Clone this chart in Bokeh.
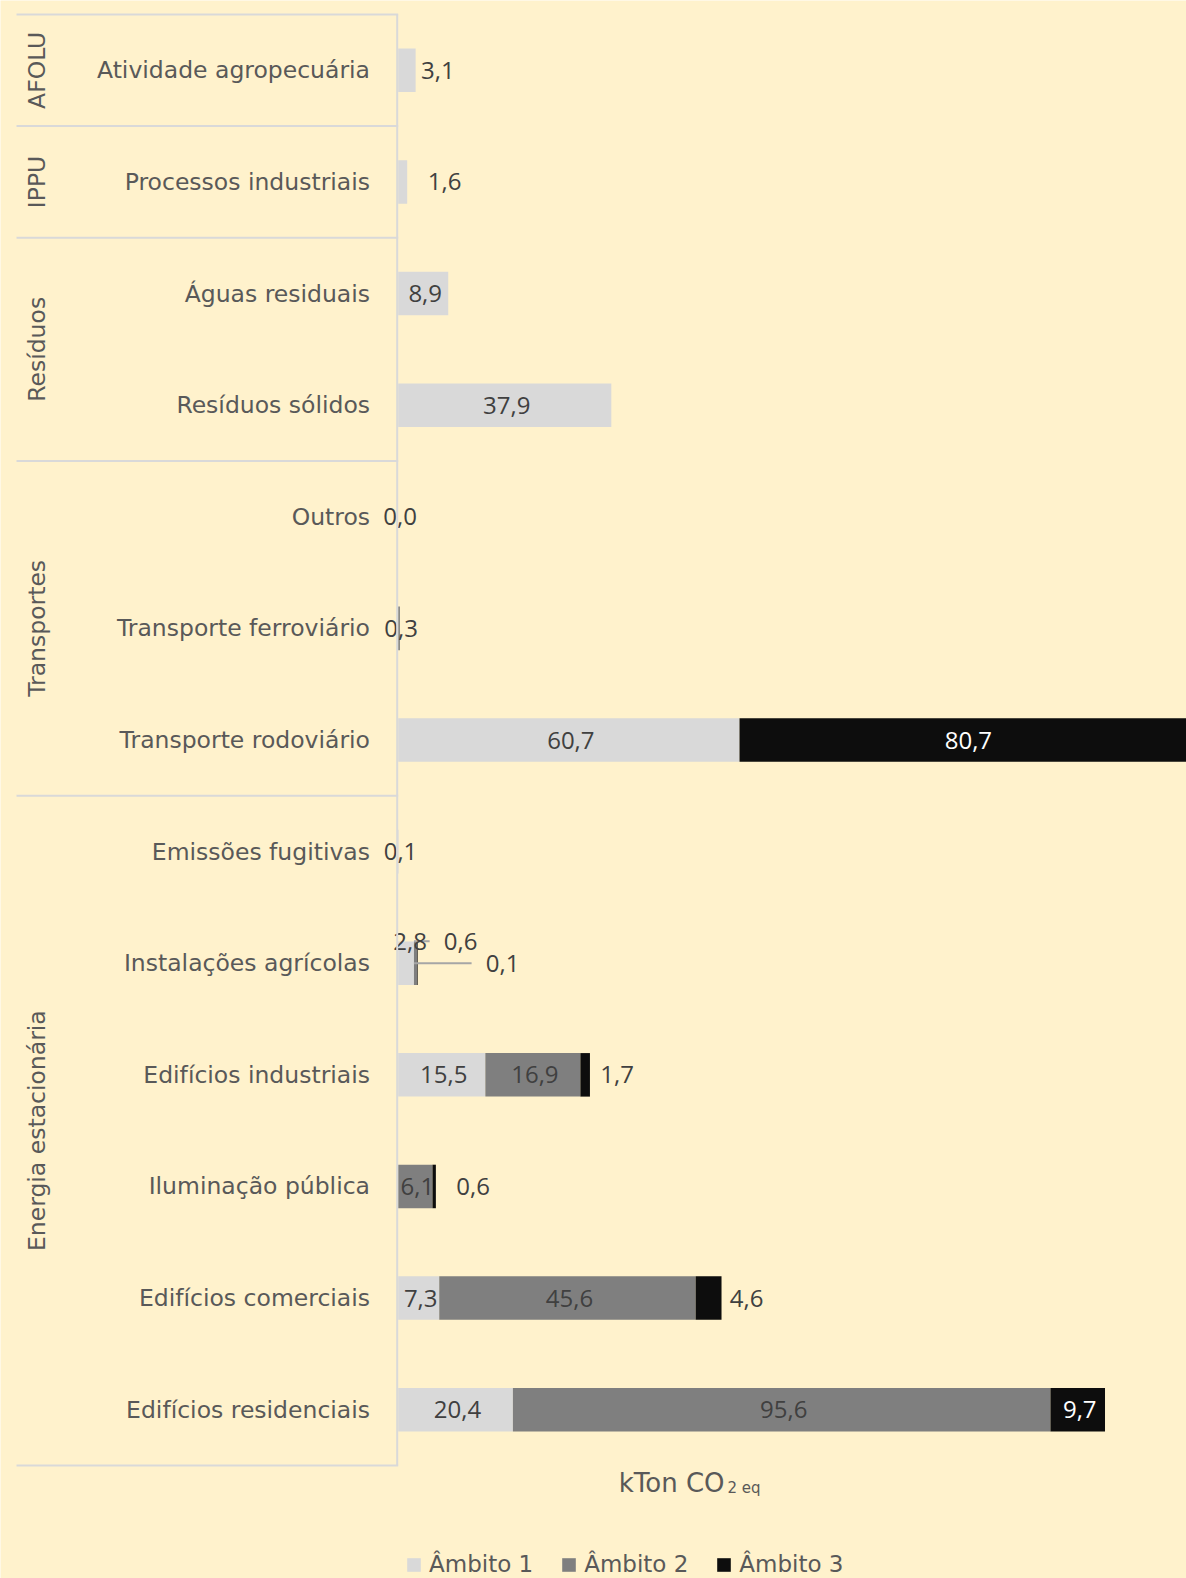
import math
from bokeh.plotting import figure
from bokeh.models import ColumnDataSource, Range1d, Legend, LegendItem
from bokeh.core.properties import value
from bokeh.embed import file_html
from bokeh.resources import INLINE

# ---------------- data ----------------
categories = [
    "Atividade agropecuária",
    "Processos industriais",
    "Águas residuais",
    "Resíduos sólidos",
    "Outros",
    "Transporte ferroviário",
    "Transporte rodoviário",
    "Emissões fugitivas",
    "Instalações agrícolas",
    "Edifícios industriais",
    "Iluminação pública",
    "Edifícios comerciais",
    "Edifícios residenciais",
]
groups = [
    "AFOLU",
    "IPPU",
    "Resíduos", "Resíduos",
    "Transportes", "Transportes", "Transportes",
    "Energia estacionária", "Energia estacionária", "Energia estacionária",
    "Energia estacionária", "Energia estacionária", "Energia estacionária",
]
ambito_1 = [3.1, 1.6, 8.9, 37.9, 0.0, 0.0, 60.7, 0.1, 2.8, 15.5, 0.0, 7.3, 20.4]
ambito_2 = [0.0, 0.0, 0.0, 0.0, 0.0, 0.3, 0.0, 0.0, 0.6, 16.9, 6.1, 45.6, 95.6]
ambito_3 = [0.0, 0.0, 0.0, 0.0, 0.0, 0.0, 80.7, 0.0, 0.1, 1.7, 0.6, 4.6, 9.7]
series_names = ["Âmbito 1", "Âmbito 2", "Âmbito 3"]
axis_title = "kTon CO"
axis_title_sub = "2 eq"
zero_labels = [("Outros", 0)]  # zero values that still carry a label

# ---------------- styles ----------------
FONT = "DejaVu Sans"
NUM_FONT = "Open Sans"
BG = "#FFF2CC"
COLORS = ["#D9D9D9", "#7F7F7F", "#0D0D0D"]
TXT = "#595959"
VAL_TXT = "#404040"
LINE = "#D9D9D9"
W, H = 1186, 1578
ZERO_X = 397.7
PX_PER_UNIT = 5.623
FRAME_TOP, FRAME_BOTTOM = 14.0, 1465.0
BAR_FRAC = 0.39
# label placement tweaks (px offsets from segment centre)
label_place = {
    ("Atividade agropecuária", 0): (31, 0),
    ("Processos industriais", 0): (42, 0),
    ("Instalações agrícolas", 0): (4, -22),
    ("Instalações agrícolas", 1): (45, -22),
    ("Instalações agrícolas", 2): (85, 0),
    ("Edifícios industriais", 2): (32, 0),
    ("Iluminação pública", 2): (39, 0),
    ("Edifícios comerciais", 2): (38, 0),
}
leaders = [("Instalações agrícolas", 1), ("Instalações agrícolas", 2)]
DEFAULT_DX = 2

n = len(categories)
band = (FRAME_BOTTOM - FRAME_TOP) / n
y_idx = list(range(n))

p = figure(
    width=W, height=H,
    x_range=Range1d(-ZERO_X / PX_PER_UNIT, (W - ZERO_X) / PX_PER_UNIT),
    y_range=Range1d(n - 0.5 + (H - FRAME_BOTTOM) / band, -0.5 - FRAME_TOP / band),
    output_backend="svg", toolbar_location=None,
    x_axis_location=None, y_axis_location=None,
    min_border=0,
)
p.min_border_left = p.min_border_right = p.min_border_top = p.min_border_bottom = 0
p.extra_x_ranges = {"cx": Range1d(0, W)}
p.extra_y_ranges = {"cy": Range1d(H, 0)}
p.background_fill_color = BG
p.border_fill_color = BG
p.outline_line_color = None
p.xgrid.visible = False
p.ygrid.visible = False

src = ColumnDataSource(dict(y=y_idx, a1=ambito_1, a2=ambito_2, a3=ambito_3))
renderers = p.hbar_stack(["a1", "a2", "a3"], y="y", height=BAR_FRAC,
                         fill_color=COLORS, line_color=None, source=src)

# value labels
series = [ambito_1, ambito_2, ambito_3]
lx, ly, lt, ldx, ldy, lc = [], [], [], [], [], []
seg_x0, seg_x1, seg_y = [], [], []
for i, cat in enumerate(categories):
    cum = 0.0
    for s in range(3):
        v = series[s][i]
        center = cum + v / 2.0
        show = v > 0 or (cat, s) in zero_labels
        if show:
            dx, dy = label_place.get((cat, s), (DEFAULT_DX, 0))
            lx.append(center)
            ly.append(i)
            lt.append(f"{v:.1f}".replace(".", ","))
            ldx.append(dx)
            ldy.append(dy)
            inside = (cat, s) not in label_place
            lc.append("#FFFFFF" if (s == 2 and inside) else VAL_TXT)
            if (cat, s) in leaders:
                seg_x0.append(series[0][i])
                seg_x1.append(center + (dx - 31) / PX_PER_UNIT)
                seg_y.append(i + dy / band)
        cum += v

p.segment(x0=seg_x0, x1=seg_x1, y0=seg_y, y1=seg_y, line_color="#A6A6A6", line_width=2)

lsrc = ColumnDataSource(dict(x=lx, y=ly, t=lt, dx=ldx, dy=ldy, c=lc))
p.text(x="x", y="y", text="t", x_offset="dx", y_offset="dy", text_color="c",
       source=lsrc, text_align="center", text_baseline="middle",
       text_font=value(NUM_FONT), text_font_size="24px")

# category labels
p.text(x=[369.5] * n, y=y_idx, text=categories, x_range_name="cx",
       text_align="right", text_baseline="middle", text_color=TXT,
       text_font=value(FONT), text_font_size="23.5px")

# group labels and separators
group_names = []
for g in groups:
    if g not in group_names:
        group_names.append(g)
g_center, bounds = [], [-0.5]
for g in group_names:
    idx = [i for i, gg in enumerate(groups) if gg == g]
    g_center.append(sum(idx) / len(idx))
    bounds.append(max(idx) + 0.5)
p.text(x=[36.5] * len(group_names), y=g_center, text=group_names, x_range_name="cx",
       angle=math.pi / 2, text_align="center", text_baseline="middle", text_color=TXT,
       text_font=value(FONT), text_font_size="23.5px")
p.segment(x0=[16] * len(bounds), x1=[397.7] * len(bounds), y0=bounds, y1=bounds,
          x_range_name="cx", line_color=LINE, line_width=2)
p.segment(x0=[396.7], x1=[396.7], y0=[-0.5], y1=[n - 0.5], x_range_name="cx",
          line_color=LINE, line_width=2)

# axis title
p.text(x=[724], y=[1482], text=[axis_title], x_range_name="cx", y_range_name="cy",
       text_align="right", text_baseline="middle", text_color=TXT,
       text_font=value(FONT), text_font_size="26px")
p.text(x=[727], y=[1487], text=[axis_title_sub], x_range_name="cx", y_range_name="cy",
       text_align="left", text_baseline="middle", text_color=TXT,
       text_font=value(FONT), text_font_size="15px")

legend = Legend(
    items=[LegendItem(label=value(nm), renderers=[r]) for nm, r in zip(series_names, renderers)],
    location=(405, 1), orientation="horizontal",
    padding=0, margin=0, spacing=27, label_standoff=7,
    glyph_width=17, glyph_height=17,
    label_text_font=FONT, label_text_font_size="23px", label_text_color=TXT,
    background_fill_alpha=0, border_line_alpha=0,
)
p.add_layout(legend)

open("out.html", "w").write(file_html(p, INLINE))
